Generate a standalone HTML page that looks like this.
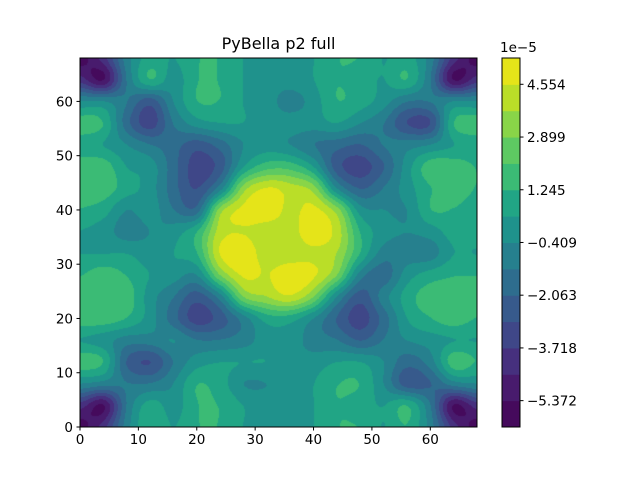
<!DOCTYPE html>
<html><head><meta charset="utf-8">
<style>
html,body{margin:0;padding:0;background:#fff;width:640px;height:480px;overflow:hidden}
#wrap{position:relative;width:640px;height:480px}
#field{position:absolute;left:80px;top:58px}
svg{position:absolute;left:0;top:0}
text{font-family:"DejaVu Sans","Liberation Sans",sans-serif;fill:#000}
</style></head>
<body>
<div id="wrap">
<canvas id="field" width="397" height="369"></canvas>
<svg id="ov" width="640" height="480"></svg>
</div>
<script>
// grid coordinates (data units)
const gridX = [0,4,8,12,16,20,24,28,32,36,40,44,48,52,56,60,64,68];
const gridY = [68,64,60,56,52,48,44,40,36,32,28,24,20,16,12,8,4,0];
// field values (x 1e-5), rows top (y=68) to bottom (y=0)
const zRow68 = [-5.8,-4.1,-0.8,0.8,0.4,1.2,1.2,0.4,0,0,0.4,1.2,1.2,0.4,0.8,-0.8,-4.1,-5.8];
const zRow64 = [-4.1,-5.4,-1.2,1.2,0,1.2,1.2,0.4,0,0,0.4,1.2,0.8,0.4,1.2,-1.2,-5.4,-4.1];
const zRow60 = [-0.4,-0.4,-1.2,-2.5,-0.4,1.2,1.2,0.4,0,-0.8,0,1.2,0.8,0,-1.2,-1.2,-0.4,-0.4];
const zRow56 = [1.7,1.2,-1.7,-3.3,-1.2,0,0.4,0.4,0,0,0,0.4,-0.4,-1.2,-2.9,-2.9,1.2,1.7];
const zRow52 = [0.8,0.4,-0.4,-1.2,-1.7,-2.5,-1.7,-0.4,0,-0.4,-1.2,-1.7,-2.1,-1.2,-0.8,-0.4,0.4,0.8];
const zRow48 = [1.7,1.7,0.4,0,-1.7,-3.3,-2.5,0.4,1.7,1.7,0.4,-2.5,-3.3,-2.1,0,1.7,1.7,1.2];
const zRow44 = [1.7,1.7,0.8,0,-1.7,-2.9,-0.8,3.3,4.6,4.1,3.3,-0.4,-2.1,-1.2,0,1.2,1.7,1.2];
const zRow40 = [1.2,0.8,-0.4,0,-1.2,-1.7,3.3,4.8,5.2,4.3,4.8,3.3,0,-0.4,-0.4,1.2,1.2,0.8];
const zRow36 = [0.4,0,-0.8,-0.4,0,1.2,4.1,4.5,4.0,4.1,5.2,4.2,1.2,0,-0.4,0,0.8,0.8];
const zRow32 = [0.4,0.4,0.4,0,0.4,1.2,4.6,5.2,4.0,4.0,4.3,3.7,1.2,-0.8,-0.8,-0.8,0.4,0.4];
const zRow28 = [1.2,1.7,1.2,0.4,0,-0.4,2.9,4.7,4.5,5.2,4.7,2.9,-0.8,-1.7,0,0.8,1.2,1.2];
const zRow24 = [1.7,1.7,1.7,0,-1.2,-2.5,-0.8,2.9,3.7,4.4,2.9,-0.4,-2.5,-0.8,0.8,1.7,1.7,1.7];
const zRow20 = [1.7,1.7,1.2,0,-1.7,-3.3,-2.5,-0.8,0.8,0.8,-0.4,-2.1,-3.3,-1.7,0.4,1.2,1.7,1.2];
const zRow16 = [0.4,0,-0.8,-0.8,-0.4,-1.2,-1.2,-0.8,0,0,-0.8,-1.2,-2.1,-1.2,-0.4,0,0.4,0.4];
const zRow12 = [1.7,1.2,-2.1,-2.9,-1.2,0,0.4,0.4,0.4,0,0,0.4,0.4,-0.4,-1.7,-0.8,1.7,1.2];
const zRow8  = [-0.4,-0.8,-1.2,-1.2,-0.4,1.2,0.8,-0.4,-0.4,0,0.4,1.2,1.2,-0.4,-2.5,-2.1,-0.8,-0.4];
const zRow4  = [-4.1,-5.4,-1.2,0.8,0,1.2,1.2,0.4,0,0,0.4,1.2,0.8,0.4,1.2,-1.2,-5.4,-4.1];
const zRow0  = [-5.8,-4.1,-0.8,1.2,0.4,1.2,1.2,0.4,0,0,0.4,1.2,1.2,0.4,1.2,-0.8,-4.1,-5.8];
const zRows = [zRow68,zRow64,zRow60,zRow56,zRow52,zRow48,zRow44,zRow40,zRow36,zRow32,zRow28,zRow24,zRow20,zRow16,zRow12,zRow8,zRow4,zRow0];
// contour levels (x 1e-5)
const levelMin = -6.199;
const levelStep = 0.827;
const levelCount = 14;
const xTicks = [0,10,20,30,40,50,60];
const yTicks = [0,10,20,30,40,50,60];
const cbTicks = [-5.372,-3.718,-2.063,-0.409,1.245,2.899,4.554];
const cbTickLabels = ["\u22125.372","\u22123.718","\u22122.063","\u22120.409","1.245","2.899","4.554"];
const bandColors = ["#450a5c","#481b6d","#46307e","#3f4788","#375a8c","#2e6d8e","#26808e","#1f928c","#21a585","#3bbb75","#5ec962","#89d548","#bade28","#e5e419"];

const PX0=80, PX1=477, PY0=58, PY1=427, XMAX=68, YMAX=68;
const sx = v => PX0 + v*(PX1-PX0)/XMAX;
const sy = v => PY1 - v*(PY1-PY0)/YMAX;
const lvMax = levelMin + levelStep*levelCount;
const cy = v => PY1 - (v-levelMin)*(PY1-PY0)/(lvMax-levelMin);

function hex(c){return [parseInt(c.slice(1,3),16),parseInt(c.slice(3,5),16),parseInt(c.slice(5,7),16)];}
const rgb = bandColors.map(hex);
function cr(p0,p1,p2,p3,t){return p1+0.5*t*(p2-p0+t*(2*p0-5*p1+4*p2-p3+t*(3*(p1-p2)+p3-p0)));}
const nR = zRows.length, nC = gridX.length;
function g(r,c){r=Math.max(0,Math.min(nR-1,r));c=Math.max(0,Math.min(nC-1,c));return zRows[r][c];}
function interp(x,y){
  const fx = (x-gridX[0])/(gridX[nC-1]-gridX[0])*(nC-1);
  const fy = (gridY[0]-y)/(gridY[0]-gridY[nR-1])*(nR-1);
  const c = Math.min(nC-2,Math.floor(fx)), r = Math.min(nR-2,Math.floor(fy));
  const tx = fx-c, ty = fy-r;
  const rows=[];
  for(let k=-1;k<=2;k++){rows.push(cr(g(r+k,c-1),g(r+k,c),g(r+k,c+1),g(r+k,c+2),tx));}
  return cr(rows[0],rows[1],rows[2],rows[3],ty);
}
const cv=document.getElementById('field');
const ctx=cv.getContext('2d');
const W=cv.width,H=cv.height;
const img=ctx.createImageData(W,H);
for(let j=0;j<H;j++){
  for(let i=0;i<W;i++){
    const x=(i+0.5)/W*XMAX, y=YMAX-(j+0.5)/H*YMAX;
    const z=interp(x,y);
    let b=Math.floor((z-levelMin)/levelStep);
    b=Math.max(0,Math.min(levelCount-1,b));
    const o=(j*W+i)*4, col=rgb[b];
    img.data[o]=col[0];img.data[o+1]=col[1];img.data[o+2]=col[2];img.data[o+3]=255;
  }
}
ctx.putImageData(img,0,0);

const NS="http://www.w3.org/2000/svg";
const svg=document.getElementById('ov');
function el(tag,attrs,parent){const e=document.createElementNS(NS,tag);for(const k in attrs)e.setAttribute(k,attrs[k]);(parent||svg).appendChild(e);return e;}

const frame=el('rect',{x:PX0,y:PY0,width:PX1-PX0,height:PY1-PY0,fill:'none',stroke:'#000','stroke-width':1});



xTicks.forEach(v=>{
  const t=el('line',{x1:sx(v),x2:sx(v),y1:PY1,y2:PY1+3.5,stroke:'#000'});
  
  
  const l=el('text',{x:sx(v),y:PY1+17,'font-size':'13.5px','text-anchor':'middle'});
  l.textContent=v;
  
  
});
yTicks.forEach(v=>{
  const t=el('line',{x1:PX0-3.5,x2:PX0,y1:sy(v),y2:sy(v),stroke:'#000'});
  
  
  const l=el('text',{x:PX0-7,y:sy(v)+5,'font-size':'13.5px','text-anchor':'end'});
  l.textContent=v;
  
  
});
const title=el('text',{x:(PX0+PX1)/2,y:49,'font-size':'16px','text-anchor':'middle'});
title.textContent='PyBella p2 full';



const CB0=502, CB1=520;
for(let i=0;i<levelCount;i++){
  const lo=levelMin+i*levelStep, hi=lo+levelStep;
  const r=el('rect',{x:CB0,y:cy(hi),width:CB1-CB0,height:cy(lo)-cy(hi)+0.5,fill:bandColors[i]});
  
  
}
const cbf=el('rect',{x:CB0,y:PY0,width:CB1-CB0,height:PY1-PY0,fill:'none',stroke:'#000'});


cbTicks.forEach((v,i)=>{
  const t=el('line',{x1:CB1,x2:CB1+3.5,y1:cy(v),y2:cy(v),stroke:'#000'});
  
  
  const l=el('text',{x:CB1+7,y:cy(v)+5,'font-size':'13.5px'});
  l.textContent=cbTickLabels[i];
  
  
});
const off=el('text',{x:CB0-2,y:52,'font-size':'13.5px'});
off.textContent='1e\u22125';


</script>
</body></html>
